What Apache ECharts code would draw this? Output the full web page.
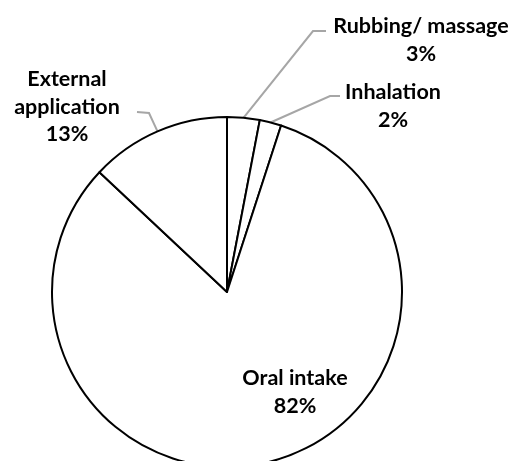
<!DOCTYPE html>
<html>
<head>
<meta charset="utf-8">
<script src="https://cdn.jsdelivr.net/npm/echarts@6/dist/echarts.min.js"></script>
<style>
  html, body { margin: 0; padding: 0; background: #fff; }
  #chart { width: 514px; height: 461px; }
</style>
</head>
<body>
<div id="chart"></div>
<script>
// data (clockwise from 12 o'clock)
var names = ['Rubbing/ massage', 'Inhalation', 'Oral intake', 'External application'];
var labelNames = ['Rubbing/ massage', 'Inhalation', 'Oral intake', 'External\napplication'];
var values = [3, 2, 82, 13];

// label placement (center of text block) and elbow of the leader line
var labelPos = [[421, 40], [393, 106], [295, 392], [67, 107]];
var elbows = [[[313, 31], [326, 31]], [[330, 96], [340, 96]], null, [[149, 113], [137, 112]]];

var chart = echarts.init(document.getElementById('chart'));

var option = {
    backgroundColor: '#fff',
    animation: false,
    series: [
        {
            type: 'pie',
            center: [227, 292],
            radius: 175,
            startAngle: 90,
            clockwise: true,
            silent: true,
            data: names.map(function (n, idx) {
                return {
                    name: n,
                    value: values[idx],
                    labelLine: { show: idx !== 2 }
                };
            }),
            itemStyle: {
                color: '#fff',
                borderColor: '#000',
                borderWidth: 2
            },
            label: {
                show: true,
                position: 'outside',
                formatter: function (p) {
                    return labelNames[p.dataIndex] + '\n' + p.percent + '%';
                },
                color: '#000',
                fontFamily: 'Lato',
                fontWeight: 'bold',
                fontSize: 21.5,
                lineHeight: 27.5,
                align: 'center'
            },
            labelLine: {
                show: true,
                lineStyle: { color: '#a6a6a6', width: 2 }
            },
            labelLayout: function (p) {
                var idx = p.dataIndex;
                var res = {
                    x: labelPos[idx][0],
                    y: labelPos[idx][1],
                    align: 'center',
                    verticalAlign: 'middle'
                };
                if (elbows[idx] && p.labelLinePoints) {
                    res.labelLinePoints = [p.labelLinePoints[0], elbows[idx][0], elbows[idx][1]];
                }
                return res;
            }
        }
    ]
};
chart.setOption(option);
</script>
</body>
</html>
